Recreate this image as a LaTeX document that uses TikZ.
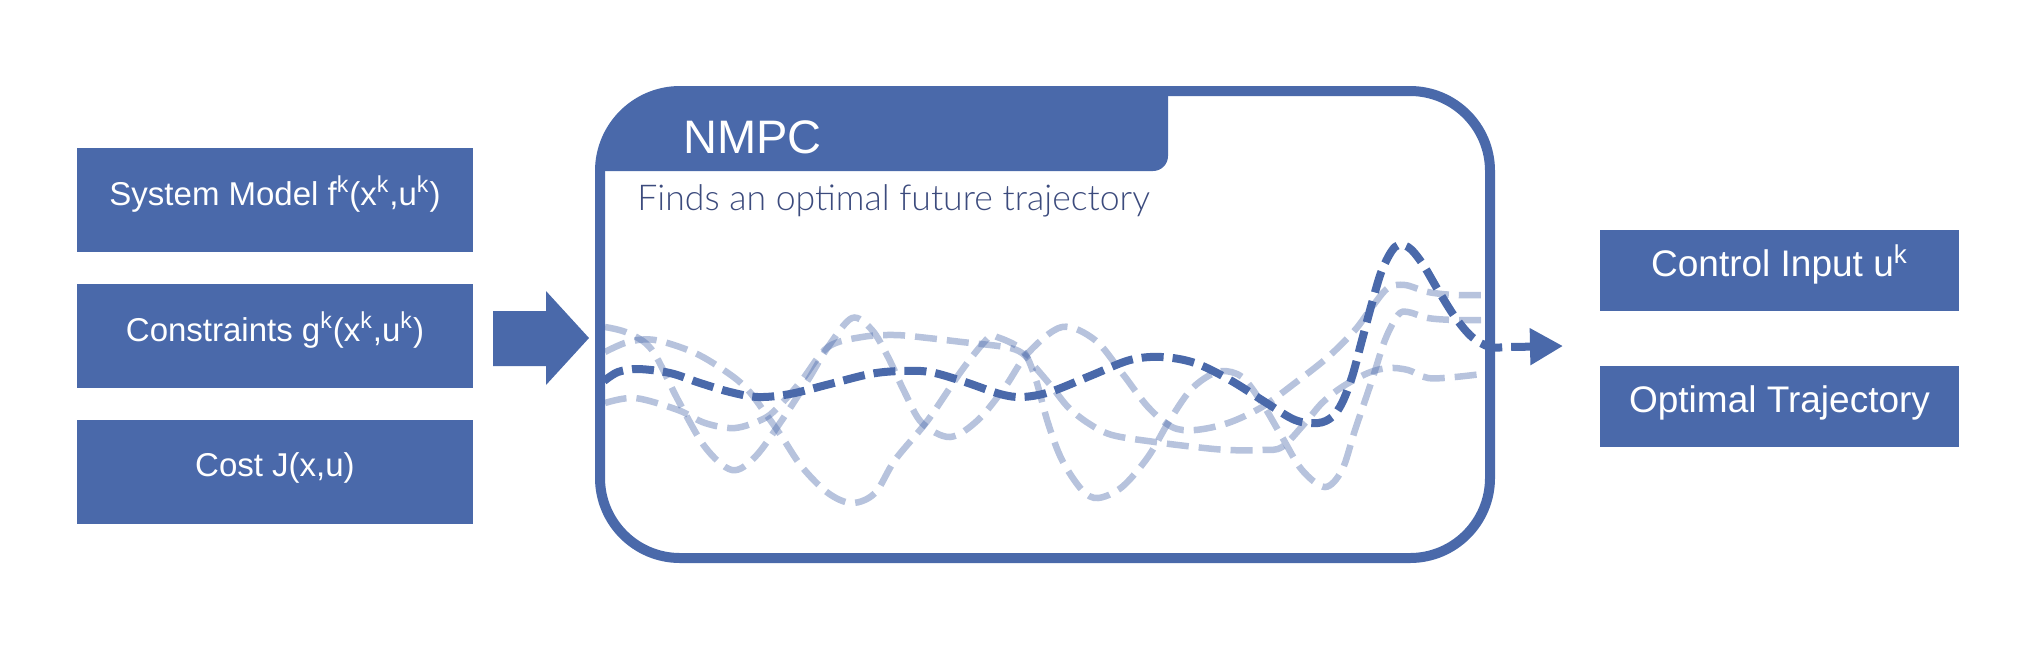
\documentclass[tikz,border=0pt]{standalone}
\usepackage{fontspec}
\setmainfont{Liberation Sans}
\newfontfamily\lightfont{Lato Light}
\usetikzlibrary{arrows.meta}
\definecolor{nblue}{RGB}{74,105,170}
\definecolor{subcol}{RGB}{60,75,125}
\begin{document}
\begin{tikzpicture}[x=0.5pt,y=-0.5pt,
  inbox/.style={fill=nblue, text=white, minimum width=198pt, minimum height=52pt,
    font=\fontsize{16.5}{18}\selectfont, text height=0.72em, text depth=0.18em, inner sep=0pt},
  outbox/.style={fill=nblue, text=white, minimum width=179.5pt, minimum height=40.5pt,
    font=\fontsize{18.5}{20}\selectfont, text height=0.72em, text depth=0.15em, inner sep=0pt},
  traj/.style={line width=3.25pt, draw=nblue, draw opacity=0.4, dash pattern=on 11pt off 5pt},
  best/.style={line width=4pt, draw=nblue, dash pattern=on 11pt off 4.5pt},
  frame/.style={draw=nblue, line width=5pt, rounded corners=40pt, inner sep=0pt}]
\useasboundingbox (0,0) rectangle (2038,671);

% input boxes
\node[inbox] (sys) at (275,200) {System Model f\textsuperscript{k}(x\textsuperscript{k},u\textsuperscript{k})};
\node[inbox] (con) at (275,336) {Constraints g\textsuperscript{k}(x\textsuperscript{k},u\textsuperscript{k})};
\node[inbox] (cost) at (275,471.5) {Cost J(x,u)};

% output boxes
\node[outbox] (ctrl) at (1779.5,270.5) {Control Input u\textsuperscript{k}};
\node[outbox] (traj) at (1779.5,406.5) {Optimal Trajectory};

% NMPC header tab
\begin{scope}
  \clip[rounded corners=40pt] (600,91) rectangle (1490,558);
  \fill[nblue, rounded corners=7.5pt] (560,60) rectangle (1168,171);
\end{scope}
\node[anchor=base west, text=white, inner sep=0pt, font=\fontsize{23.5}{26}\selectfont] (title) at (683,153) {NMPC};
\node[anchor=base west, text=subcol, inner sep=0pt, font=\lightfont\fontsize{17.8}{20}\selectfont] (sub) at (637,210) {Finds an optimal future trajectory};

% candidate trajectories
\draw[traj] plot[smooth, tension=0.55] coordinates {(605,327) (628,333) (652,350) (678,400) (705,447) (732,470) (755,457) (782,420) (808,380) (828,347) (852,318) (872,330) (888,357) (905,393) (922,423) (950,437) (978,420) (1005,387) (1028,353) (1062,327) (1095,340) (1122,373) (1148,407) (1172,427) (1195,430) (1228,423) (1262,407) (1295,383) (1328,357) (1355,330) (1372,307) (1388,288) (1405,285) (1428,292) (1455,295) (1490,295)};
\draw[traj] plot[smooth, tension=0.55] coordinates {(605,352) (628,342) (655,340) (695,353) (728,373) (748,390) (768,417) (782,437) (802,467) (828,493) (852,503) (875,493) (895,460) (928,420) (962,370) (988,338) (997,337) (1022,350) (1035,377) (1048,423) (1062,460) (1082,490) (1098,498) (1122,487) (1148,457) (1168,423) (1188,393) (1205,378) (1222,371) (1242,377) (1262,403) (1282,437) (1302,470) (1325,487) (1342,470) (1355,430) (1372,380) (1385,340) (1398,315) (1408,312) (1428,318) (1455,320) (1490,320)};
\draw[traj] plot[smooth, tension=0.55] coordinates {(605,403) (635,398) (678,410) (705,423) (735,428) (765,418) (782,403) (802,380) (828,347) (862,337) (895,335) (928,338) (962,342) (1005,347) (1022,353) (1035,367) (1052,387) (1068,407) (1088,423) (1112,435) (1155,442) (1195,447) (1228,450) (1262,450) (1282,447) (1305,423) (1322,403) (1342,387) (1368,373) (1388,368) (1408,370) (1428,378) (1455,377) (1490,373)};

% NMPC frame
\node[frame, minimum width=445pt, minimum height=233.5pt] (nmpc) at (1045,324.5) {};

% input arrow
\coordinate (inS) at (493,338.5);
\coordinate (inT) at (589,338);
\fill[nblue] (inS) ++(0,-27.5) -- ++(53,0) -- ++(0,-20) -- (inT) -- (546,385) -- (546,366) -- (493,366) -- cycle;

% optimal trajectory and output arrow
\coordinate (outT) at (1563,346);
\draw[best, -{Triangle[length=16.5pt,width=17.5pt]}] plot[smooth, tension=0.55] coordinates {(604,381) (618,372) (638,369) (670,373) (700,383) (730,392) (758,397) (790,394) (830,384) (870,374) (900,371) (930,372) (965,382) (1000,394) (1022,397) (1050,392) (1090,376) (1130,360) (1162,357) (1195,363) (1230,380) (1265,402) (1295,420) (1318,423) (1332,417) (1342,403) (1352,377) (1362,340) (1372,303) (1382,270) (1395,247) (1408,247) (1422,263) (1438,290) (1455,317) (1472,337) (1490,347) (1510,347) (1563,346)};
\end{tikzpicture}
\end{document}
